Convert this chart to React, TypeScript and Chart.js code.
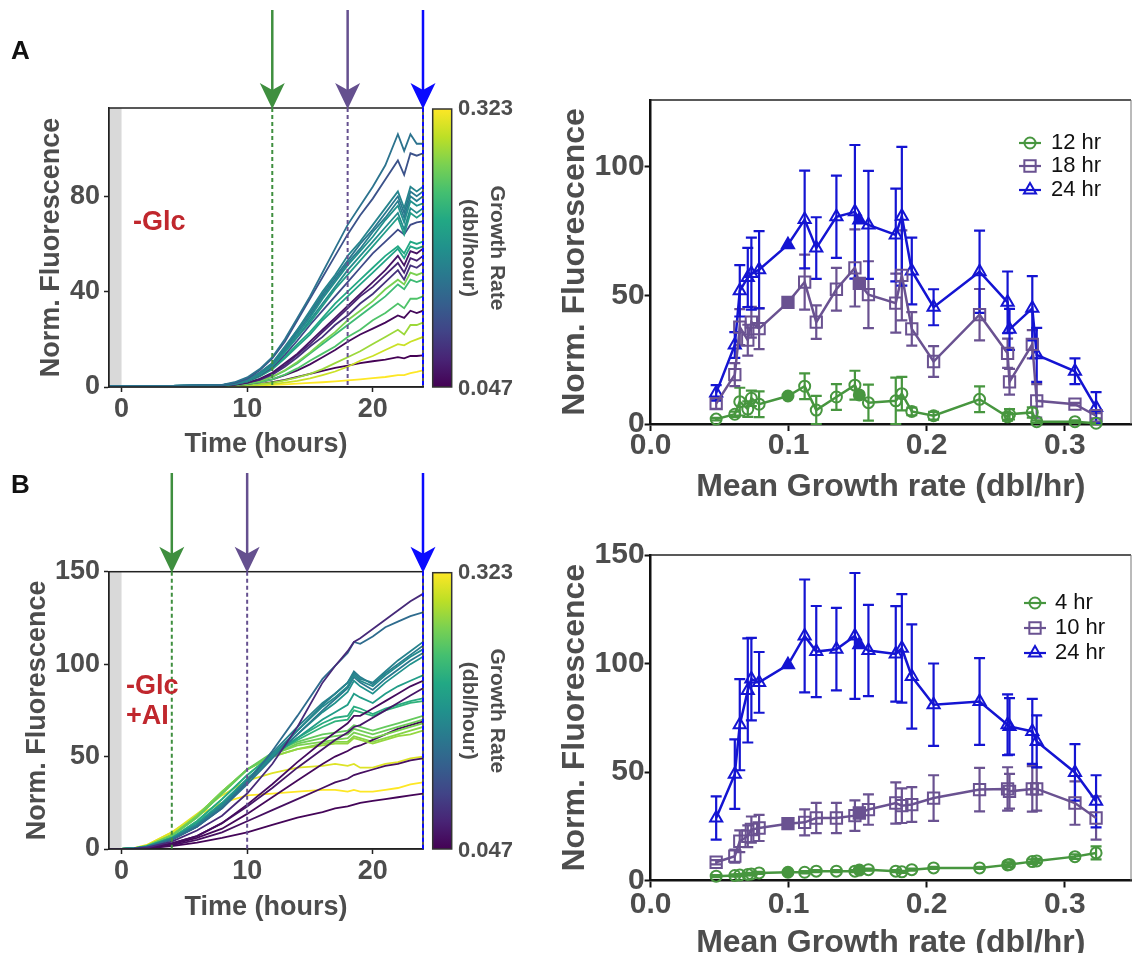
import React, { useEffect, useRef } from 'react';
import { Chart, registerables } from 'chart.js';

Chart.register(...registerables);
const FONT = "'Liberation Sans', Arial, Helvetica, sans-serif";
Chart.defaults.font.family = FONT;

const GRAY = '#4d4d4d';
const RED = '#c0272d';
const GREEN = '#47963f';
const PURPLE = '#6a5291';
const BLUE = '#1414d2';
const MARK_GREEN = '#3f8f3f';
const MARK_PURPLE = '#65508f';
const MARK_BLUE = '#0a0aff';

const VIRIDIS = ['#440154', '#482475', '#414487', '#355f8d', '#2a788e', '#21918c', '#22a884', '#44bf70', '#7ad151', '#bddf26', '#fde725'];
function hexToRgb(h: string) {
  return [parseInt(h.slice(1, 3), 16), parseInt(h.slice(3, 5), 16), parseInt(h.slice(5, 7), 16)];
}
function viridis(t: number): string {
  const c = Math.max(0, Math.min(1, t));
  const pos = c * (VIRIDIS.length - 1);
  const i = Math.min(Math.floor(pos), VIRIDIS.length - 2);
  const f = pos - i;
  const a = hexToRgb(VIRIDIS[i]);
  const b = hexToRgb(VIRIDIS[i + 1]);
  const m = a.map((v, k) => Math.round(v + (b[k] - v) * f));
  return `rgb(${m[0]},${m[1]},${m[2]})`;
}

// ---------- colour bar range ----------
const RATE_MIN = 0.047;
const RATE_MAX = 0.323;
const rateBarLabels = ['0.323', '0.047'];

// ---------- Panel A (left): time courses, -Glc ----------
const timeA = [-1, 4, 8, 9, 10, 11, 12, 13, 14, 15, 16, 17, 18, 19, 20, 21, 22, 22.5, 23, 23.5, 24];
const rateA = [0.152, 0.116, 0.171, 0.163, 0.185, 0.179, 0.199, 0.157, 0.108, 0.213, 0.207, 0.061, 0.075, 0.086, 0.268, 0.235, 0.246, 0.053, 0.282, 0.301, 0.047, 0.323];
const curvesA = [
  [0.5, 0.5, 0.9, 2, 4, 7.5, 12.5, 20, 29, 38, 48, 58, 68, 76, 84, 93, 106, 99, 106, 102, 102],
  [0.5, 0.5, 0.8, 1.7, 3.5, 7, 12, 19, 28, 37, 46, 55, 64, 72, 79, 87, 95, 89, 98, 97, 98],
  [0.5, 0.5, 0.8, 1.5, 3, 6, 10, 17, 24, 32, 40, 47, 55, 61, 68, 75, 82, 75, 84, 82, 84],
  [0.5, 0.5, 0.8, 1.5, 3, 5.8, 9.6, 16, 23, 30, 38, 45, 52, 58, 65, 71, 78, 71, 80, 78, 80],
  [0.5, 0.5, 0.8, 1.4, 2.8, 5.5, 9.4, 15.5, 22, 29, 37, 44, 51, 57, 63, 70, 76, 69, 78, 76, 77],
  [0.5, 0.5, 0.8, 1.4, 2.7, 5.3, 9, 15, 21, 28, 35, 42, 49, 55, 61, 67, 73, 66, 75, 73, 75],
  [0.5, 0.5, 0.8, 1.3, 2.6, 5.1, 8.8, 14.5, 21, 27, 34, 41, 47, 53, 59, 65, 71, 64, 73, 71, 73],
  [0.5, 0.5, 0.8, 1.5, 3, 6, 10, 16.5, 24, 31, 39, 46, 53, 60, 66, 73, 80, 73, 82, 80, 82],
  [0.5, 0.5, 0.7, 1.2, 2.4, 4.8, 8.2, 13.5, 19.5, 26, 32, 38, 44, 50, 56, 61, 66, 64, 68, 69, 69.5],
  [0.5, 0.5, 0.7, 1.3, 2.4, 4.6, 7.8, 12.5, 18, 23, 29, 35, 40, 45, 50, 55, 59, 56, 61, 60, 61],
  [0.5, 0.5, 0.7, 1.2, 2.3, 4.4, 7.4, 12, 17, 22, 28, 33, 38, 43, 48, 53, 58, 54, 59, 58, 59],
  [0.5, 0.5, 0.6, 1, 1.8, 3.4, 6, 10, 14, 19, 24, 29, 34, 39, 44, 49, 55, 51, 57, 56, 58],
  [0.5, 0.5, 0.6, 1, 1.8, 3.2, 5.6, 9.2, 13.5, 18, 23, 28, 33, 38, 42, 47, 52, 48, 54, 53, 55],
  [0.5, 0.5, 0.6, 1, 1.7, 3, 5.2, 8.5, 12.5, 17, 21, 26, 30, 35, 39, 44, 49, 45, 51, 50, 52],
  [0.5, 0.5, 0.6, 0.9, 1.5, 2.6, 4.3, 7, 10.5, 14.5, 19, 23, 28, 32, 36, 41, 45, 43, 48, 47, 48],
  [0.5, 0.5, 0.6, 0.9, 1.5, 2.6, 4.2, 6.8, 10, 14, 18, 22, 26, 30, 34, 38, 43, 41, 45, 44, 45],
  [0.5, 0.5, 0.6, 0.8, 1.2, 2, 3.2, 5.2, 7.8, 11, 14, 17, 21, 24, 28, 31, 35, 33, 37, 37, 38],
  [0.5, 0.5, 0.6, 0.8, 1.2, 2, 3.2, 5, 7, 9.5, 12.5, 15.5, 19, 22, 24.5, 27, 30, 29, 32, 31, 32],
  [0.5, 0.5, 0.5, 0.6, 0.8, 1.2, 1.8, 2.8, 4, 5.5, 7.5, 10, 12.5, 15, 18, 21, 24, 22, 26, 26, 27],
  [0.5, 0.5, 0.5, 0.6, 0.7, 0.9, 1.2, 1.8, 2.6, 3.6, 5, 6.5, 8.5, 11, 13, 15.5, 18, 17.5, 19, 20, 21],
  [0.5, 0.5, 0.5, 0.6, 0.8, 1.2, 2, 3, 4.2, 5.5, 6.8, 8, 9, 10, 10.8, 11.5, 12.5, 12, 13, 13, 13.3],
  [0.5, 0.5, 0.5, 0.5, 0.6, 0.7, 0.9, 1.1, 1.4, 1.7, 2, 2.4, 2.8, 3.2, 3.7, 4.2, 5, 5, 5.8, 6.3, 7],
];
const marksA = [12, 18, 24];

// ---------- Panel B (left): time courses, -Glc +AI ----------
const timeB = [-1, 0, 1, 2, 4, 6, 8, 10, 12, 14, 16, 17, 18, 18.5, 19, 20, 21, 22, 23, 24];
const rateB = [0.08, 0.144, 0.168, 0.177, 0.157, 0.185, 0.199, 0.055, 0.064, 0.218, 0.224, 0.257, 0.262, 0.268, 0.279, 0.053, 0.058, 0.05, 0.309, 0.323, 0.163, 0.273];
const curvesB = [
  [0, 0, 0.2, 0.8, 4, 10, 18, 30, 46, 66, 90, 99, 107, 112, 114, 119, 124, 129, 134, 138],
  [0, 0, 0.3, 1, 5, 12, 22, 36, 53, 72, 92, 99, 106, 112, 111, 115, 120, 123, 126, 128],
  [0, 0, 0.3, 1.2, 5.5, 13, 23, 37, 52, 66, 79, 84, 90, 95, 92, 90, 96, 102, 107, 112],
  [0, 0, 0.3, 1.2, 5.5, 13, 24, 37, 51, 64, 77, 82, 88, 94, 91, 88, 94, 99, 104, 108],
  [0, 0, 0.3, 1.1, 5, 12, 22, 35, 49, 62, 75, 81, 87, 93, 90, 86, 92, 97, 102, 106],
  [0, 0, 0.3, 1.2, 5.5, 13, 24, 37, 50, 62, 74, 79, 85, 91, 88, 84, 90, 95, 100, 104],
  [0, 0, 0.3, 1.3, 6, 14, 25, 38, 50, 60, 70, 74, 78, 84, 82, 79, 84, 88, 91, 94],
  [0, 0, 0.2, 0.6, 3, 7, 14, 24, 35, 47, 58, 63, 68, 72, 72, 76, 80, 84, 88, 91],
  [0, 0, 0.2, 0.6, 3, 7, 14, 23, 33, 44, 54, 59, 63, 66, 67, 71, 75, 79, 83, 87],
  [0, 0, 0.3, 1.4, 6, 15, 27, 40, 51, 60, 68, 71, 72, 77, 76, 73, 76, 78, 80, 81.5],
  [0, 0, 0.3, 1.4, 6, 15, 27, 40, 51, 59, 66, 69, 70, 75, 74, 72, 75, 77, 79, 80],
  [0, 0, 0.4, 1.6, 7, 17, 30, 43, 52, 58, 62, 63, 64, 67, 66, 64, 66, 68, 70, 72],
  [0, 0, 0.4, 1.6, 7, 17, 30, 43, 51, 57, 60, 61, 62, 65, 64, 62, 64, 66, 68, 70],
  [0, 0, 0.4, 1.7, 7.5, 18, 31, 43, 51, 56, 58, 59, 60, 63, 62, 60, 62, 64, 66, 68],
  [0, 0, 0.4, 1.7, 7.5, 18, 31, 43, 50, 54, 56, 57, 57, 60, 59, 57, 59, 61, 62, 64],
  [0, 0, 0.2, 0.5, 2.5, 6, 11, 19, 28, 37, 46, 50, 53, 55, 56, 59, 62, 65, 67, 69],
  [0, 0, 0.2, 0.5, 2, 5, 9, 15, 21, 27, 33, 36, 38, 40, 41, 43, 45, 46, 48, 49],
  [0, 0, 0.1, 0.4, 1.5, 3.5, 6, 9, 13, 17, 20, 22, 23, 24, 25, 26, 27, 28, 29, 30],
  [0, 0, 0.5, 2, 9, 19, 29, 37, 41, 44, 45, 46, 45, 46, 44, 44, 46, 47, 49, 50],
  [0, 0, 0.5, 2.2, 9, 18, 25, 29, 30, 31, 32, 32, 31, 32, 31, 31, 32, 33, 35, 36],
  [0, 0, 0.3, 1.1, 5, 12, 23, 36, 50, 64, 78, 84, 90, 96, 93, 89, 95, 100, 105, 110],
  [0, 0, 0.4, 1.8, 8, 18, 31, 43, 50, 54, 57, 58, 58, 61, 60, 58, 60, 62, 64, 66],
];
const marksB = [4, 10, 24];

const timeTicks = [0, 10, 20];
const yTicksLeftA = [0, 40, 80];
const yTicksLeftB = [0, 50, 100, 150];

// ---------- Right panels: fluorescence vs mean growth rate ----------
const growthRate = [0.0475, 0.061, 0.0646, 0.0704, 0.073, 0.0786, 0.0995, 0.1116, 0.12, 0.1346, 0.148, 0.1512, 0.1578, 0.1776, 0.182, 0.1892, 0.205, 0.2383, 0.2586, 0.26, 0.2765, 0.2797, 0.3074, 0.3227];
const filledIdx = [6, 11];
const growthTicks = [0, 0.1, 0.2, 0.3];

const fluA12 = [1.9, 3.8, 8.7, 5.8, 10, 7.7, 10.9, 14.7, 5.4, 10.5, 15.1, 11.3, 8.3, 9, 11.8, 4.9, 3.2, 9.6, 2.8, 3.8, 4.5, 0.9, 0.9, 0.3];
const errA12 = [0.5, 1, 5.4, 3, 3, 5, 0, 5, 5.5, 5, 5.6, 0, 7, 9, 6.5, 1.5, 1.5, 5, 1.5, 2, 2, 0.5, 0.5, 0.5];
const fluA18 = [7.9, 19.2, 37.7, 32.6, 39.6, 37.1, 47.3, 55.2, 39.6, 52.4, 60.7, 54.7, 50.3, 47, 57.8, 37, 24.3, 42.5, 27.5, 16.4, 31, 9, 7.7, 3.2];
const errA18 = [2, 4.5, 7, 6, 6, 8, 0, 10.7, 6.5, 8.3, 15, 0, 13, 11.5, 17.5, 6.5, 6, 10, 5.7, 5, 5.5, 6.5, 0.5, 1];
const fluA24 = [12.1, 30.7, 51.8, 57, 58.5, 60, 69.7, 79.5, 68.4, 80.6, 82.5, 79.3, 77.4, 73.5, 80.8, 59.5, 45.4, 59.2, 47.3, 36.8, 45, 26.9, 20.5, 6.4];
const errA24 = [3, 5, 10, 11.5, 14, 15, 0, 19, 12, 16, 26, 0, 21, 18, 27, 13, 7, 16, 12, 8, 12.5, 10.5, 5, 6];
const yTicksRightA = [0, 50, 100];

const fluB4 = [2, 2.3, 2.5, 2.8, 3, 3.5, 3.8, 3.8, 4.3, 4.3, 4.3, 4.8, 5, 4.3, 4, 5, 5.8, 5.8, 7.2, 7.4, 8.7, 9, 11, 12.7];
const errB4 = [0.5, 0.5, 0.5, 0.5, 0.5, 0.5, 0, 0.5, 0.5, 0.5, 0.5, 0, 0.5, 0.5, 0.5, 0.5, 0.5, 0.5, 1, 1, 1, 1, 1, 3];
const fluB10 = [8.4, 11.2, 18.1, 20.4, 23.5, 24.2, 26.2, 26.8, 28.8, 28.8, 29.9, 31.1, 32.7, 35.7, 34.5, 35, 38, 41.9, 42.2, 41.1, 42.2, 42.2, 35.7, 28.8];
const errB10 = [1, 3, 5, 5, 6, 6, 0, 6, 7, 7, 7, 0, 7, 9.5, 8, 8, 10.5, 10, 10, 8, 10.5, 10, 10, 10];
const fluB24 = [28.8, 49, 71.8, 87.6, 92.8, 91.3, 99.4, 112.7, 105.5, 106.6, 112.7, 108.6, 106, 104.4, 107, 94, 81, 82.5, 71.8, 71, 68.7, 64.1, 49.8, 36.5];
const errB24 = [10, 16, 21, 24, 19, 14, 0, 26, 21, 19, 29, 0, 21, 22, 25, 24, 19, 20, 14, 13, 15, 12, 13, 12];
const yTicksRightB = [0, 50, 100, 150];

const legendA = ['12 hr', '18 hr', '24 hr'];
const legendB = ['4 hr', '10 hr', '24 hr'];

// ---------- helpers ----------
const setTicks = (vals: number[]) => (s: any) => {
  s.ticks = vals.map((v) => ({ value: v }));
};

function drawMarker(ctx: any, style: string, x: number, y: number, r: number) {
  ctx.beginPath();
  if (style === 'circle') {
    ctx.arc(x, y, r, 0, Math.PI * 2);
  } else if (style === 'rect') {
    const s = r * Math.SQRT1_2;
    ctx.rect(x - s, y - s, 2 * s, 2 * s);
  } else {
    ctx.moveTo(x, y - r);
    ctx.lineTo(x + r * 0.866, y + r * 0.5);
    ctx.lineTo(x - r * 0.866, y + r * 0.5);
    ctx.closePath();
  }
  ctx.stroke();
}

function leftDecor(o: any) {
  return {
    id: 'leftDecor',
    beforeDatasetsDraw(chart: any) {
      const { ctx, chartArea: ca, scales } = chart;
      const x0 = scales.x.getPixelForValue(-1);
      const x1 = scales.x.getPixelForValue(0);
      ctx.save();
      ctx.fillStyle = '#d9d9d9';
      ctx.fillRect(x0, ca.top, x1 - x0, ca.bottom - ca.top);
      ctx.restore();
    },
    afterDraw(chart: any) {
      const { ctx, chartArea: ca, scales } = chart;
      ctx.save();
      ctx.strokeStyle = '#222';
      ctx.lineWidth = 1.5;
      ctx.strokeRect(ca.left, ca.top, ca.right - ca.left, ca.bottom - ca.top);
      const cols = [MARK_GREEN, MARK_PURPLE, MARK_BLUE];
      o.marks.forEach((t: number, i: number) => {
        const px = scales.x.getPixelForValue(t);
        ctx.strokeStyle = cols[i];
        ctx.fillStyle = cols[i];
        ctx.setLineDash([4, 3]);
        ctx.lineWidth = 2;
        ctx.beginPath();
        ctx.moveTo(px, ca.top);
        ctx.lineTo(px, ca.bottom);
        ctx.stroke();
        ctx.setLineDash([]);
        ctx.lineWidth = 2.5;
        ctx.beginPath();
        ctx.moveTo(px, o.arrowTop);
        ctx.lineTo(px, ca.top - 16);
        ctx.stroke();
        ctx.beginPath();
        ctx.moveTo(px, ca.top + 1);
        ctx.lineTo(px - 12.5, ca.top - 25);
        ctx.lineTo(px, ca.top - 18);
        ctx.lineTo(px + 12.5, ca.top - 25);
        ctx.closePath();
        ctx.fill();
      });
      // colour bar
      const bx = 432.7;
      const bw = 19;
      const bt = ca.top + 1;
      const bb = ca.bottom;
      const g = ctx.createLinearGradient(0, bb, 0, bt);
      VIRIDIS.forEach((c, i) => g.addColorStop(i / (VIRIDIS.length - 1), c));
      ctx.fillStyle = g;
      ctx.fillRect(bx, bt, bw, bb - bt);
      ctx.strokeStyle = '#333';
      ctx.lineWidth = 1.5;
      ctx.strokeRect(bx, bt, bw, bb - bt);
      ctx.fillStyle = GRAY;
      ctx.font = `bold 22px ${FONT}`;
      ctx.textAlign = 'left';
      ctx.textBaseline = 'middle';
      ctx.fillText(rateBarLabels[0], 458, bt);
      ctx.fillText(rateBarLabels[1], 458, bb + 2);
      ctx.font = `bold 21px ${FONT}`;
      ctx.textAlign = 'center';
      const mid = (bt + bb) / 2;
      ctx.save();
      ctx.translate(497, mid);
      ctx.rotate(Math.PI / 2);
      ctx.fillText('Growth Rate', 0, 0);
      ctx.restore();
      ctx.save();
      ctx.translate(469, mid);
      ctx.rotate(Math.PI / 2);
      ctx.fillText('(dbl/hour)', 0, 0);
      ctx.restore();
      // panel letter
      ctx.fillStyle = '#111';
      ctx.font = `bold 26px ${FONT}`;
      ctx.textAlign = 'left';
      ctx.fillText(o.letter, 11, o.letterY);
      // condition
      ctx.fillStyle = RED;
      ctx.font = `bold 27px ${FONT}`;
      o.cond.forEach((c: any) => ctx.fillText(c.text, c.x, c.y));
      ctx.restore();
    },
  };
}

function leftConfig(o: any) {
  const datasets = o.curves.map((row: number[], k: number) => ({
    data: o.times.map((t: number, i: number) => ({ x: t, y: row[i] })),
    borderColor: viridis((o.rates[k] - RATE_MIN) / (RATE_MAX - RATE_MIN)),
    borderWidth: 1.8,
    pointRadius: 0,
    tension: 0,
    fill: false,
  }));
  const tickFont = { size: 27, weight: 'bold' as const, lineHeight: 1 };
  return {
    type: 'line' as const,
    data: { datasets },
    options: {
      animation: false as const,
      responsive: false,
      maintainAspectRatio: false,
      events: [],
      layout: { padding: { left: 0, top: o.padTop, right: 122, bottom: 0 } },
      plugins: { legend: { display: false }, tooltip: { enabled: false } },
      scales: {
        x: {
          type: 'linear' as const,
          min: -1,
          max: 24,
          afterBuildTicks: setTicks(timeTicks),
          afterFit: (s: any) => { s.height = o.xAxisH; },
          grid: { drawOnChartArea: false, drawTicks: true, tickLength: 5, tickColor: '#222', tickWidth: 1.5 },
          border: { color: '#222', width: 1.5 },
          ticks: { font: tickFont, color: GRAY, padding: 4.5, maxRotation: 0, autoSkip: false },
          title: { display: true, text: 'Time (hours)', color: GRAY, font: tickFont, padding: { top: 0, bottom: o.xTitlePad } },
        },
        y: {
          type: 'linear' as const,
          min: 0,
          max: o.yMax,
          afterBuildTicks: setTicks(o.yTicks),
          afterFit: (s: any) => { s.width = 109; },
          grid: { drawOnChartArea: false, drawTicks: true, tickLength: 5, tickColor: '#222', tickWidth: 1.5 },
          border: { color: '#222', width: 1.5 },
          ticks: { font: tickFont, color: GRAY, padding: 4, autoSkip: false },
          title: { display: true, text: 'Norm. Fluorescence', color: GRAY, font: tickFont, padding: { top: o.yTitlePad, bottom: 0 } },
        },
      },
    },
    plugins: [leftDecor(o)],
  };
}

function rightDecor(o: any) {
  return {
    id: 'rightDecor',
    beforeDatasetsDraw(chart: any) {
      const { ctx, scales } = chart;
      ctx.save();
      ctx.lineWidth = 2.2;
      chart.data.datasets.forEach((ds: any) => {
        ctx.strokeStyle = ds.borderColor;
        ds.data.forEach((pt: any, i: number) => {
          const e = ds.errors[i];
          if (!e) return;
          const px = scales.x.getPixelForValue(pt.x);
          const yt = scales.y.getPixelForValue(pt.y + e);
          const yb = scales.y.getPixelForValue(Math.max(pt.y - e, 0));
          ctx.beginPath();
          ctx.moveTo(px, yt);
          ctx.lineTo(px, yb);
          ctx.moveTo(px - 5.5, yt);
          ctx.lineTo(px + 5.5, yt);
          ctx.moveTo(px - 5.5, yb);
          ctx.lineTo(px + 5.5, yb);
          ctx.stroke();
        });
      });
      ctx.restore();
    },
    afterDraw(chart: any) {
      const { ctx, chartArea: ca } = chart;
      ctx.save();
      ctx.strokeStyle = '#222';
      ctx.lineWidth = 1.5;
      ctx.beginPath();
      ctx.moveTo(ca.left, ca.top);
      ctx.lineTo(ca.right, ca.top);
      ctx.stroke();
      ctx.strokeStyle = '#777';
      ctx.lineWidth = 1;
      ctx.beginPath();
      ctx.moveTo(ca.right, ca.top);
      ctx.lineTo(ca.right, ca.bottom);
      ctx.stroke();
      // legend
      chart.data.datasets.forEach((ds: any, i: number) => {
        const y = o.legY[i];
        ctx.strokeStyle = ds.borderColor;
        ctx.lineWidth = 2.2;
        ctx.beginPath();
        ctx.moveTo(o.legX - 11, y);
        ctx.lineTo(o.legX + 11, y);
        ctx.stroke();
        ctx.lineWidth = 2;
        drawMarker(ctx, ds.pointStyle, o.legX, y, ds.pointRadius);
        ctx.fillStyle = '#111';
        ctx.font = `22px ${FONT}`;
        ctx.textAlign = 'left';
        ctx.textBaseline = 'middle';
        ctx.fillText(ds.label, o.legTextX, y);
      });
      ctx.restore();
    },
  };
}

function seriesDs(label: string, ys: number[], errs: number[], color: string, style: string, r: number) {
  return {
    label,
    data: growthRate.map((g, i) => ({ x: g, y: ys[i] })),
    errors: errs,
    borderColor: color,
    borderWidth: 2.5,
    tension: 0,
    fill: false,
    clip: false,
    pointStyle: style,
    pointRadius: r,
    pointBorderWidth: 2,
    pointBorderColor: color,
    pointBackgroundColor: growthRate.map((_, i) => (filledIdx.includes(i) ? color : 'rgba(255,255,255,0)')),
  };
}

function rightConfig(o: any) {
  const tickFont = { size: 30, weight: 'bold' as const, lineHeight: 1 };
  const titleFont = { size: 32, weight: 'bold' as const, lineHeight: 1 };
  return {
    type: 'line' as const,
    data: {
      datasets: [
        seriesDs(o.labels[0], o.s1, o.e1, GREEN, 'circle', 5.5),
        seriesDs(o.labels[1], o.s2, o.e2, PURPLE, 'rect', 8),
        seriesDs(o.labels[2], o.s3, o.e3, BLUE, 'triangle', 7),
      ],
    },
    options: {
      animation: false as const,
      responsive: false,
      maintainAspectRatio: false,
      events: [],
      layout: { padding: { left: 0, top: o.padTop, right: 2, bottom: 0 } },
      plugins: { legend: { display: false }, tooltip: { enabled: false } },
      scales: {
        x: {
          type: 'linear' as const,
          min: 0,
          max: 0.348,
          afterBuildTicks: setTicks(growthTicks),
          afterFit: (s: any) => { s.height = o.xAxisH; },
          grid: { drawOnChartArea: false, drawTicks: true, tickLength: 7, tickColor: '#111', tickWidth: 2 },
          border: { color: '#111', width: 2.5 },
          ticks: { font: tickFont, color: GRAY, padding: o.xTickPad, maxRotation: 0, autoSkip: false, callback: (v: any) => Number(v).toFixed(1) },
          title: { display: true, text: 'Mean Growth rate (dbl/hr)', color: GRAY, font: titleFont, padding: { top: 0, bottom: o.xTitlePad } },
        },
        y: {
          type: 'linear' as const,
          min: 0,
          max: o.yMax,
          afterBuildTicks: setTicks(o.yTicks),
          afterFit: (s: any) => { s.width = 110.6; },
          grid: { drawOnChartArea: false, drawTicks: true, tickLength: 6, tickColor: '#111', tickWidth: 2 },
          border: { color: '#111', width: 2.5 },
          ticks: { font: tickFont, color: GRAY, padding: 0, autoSkip: false },
          title: { display: true, text: 'Norm. Fluorescence', color: GRAY, font: titleFont, padding: { top: 19, bottom: 0 } },
        },
      },
    },
    plugins: [rightDecor(o)],
  };
}

function ChartBox({ left, top, width, height, make }: any) {
  const ref = useRef<HTMLCanvasElement | null>(null);
  useEffect(() => {
    const chart = new Chart(ref.current as any, make() as any);
    return () => chart.destroy();
  }, []);
  return (
    <div style={{ position: 'absolute', left, top, width, height }}>
      <canvas ref={ref} width={width} height={height} style={{ width: `${width}px`, height: `${height}px`, display: 'block' }} />
    </div>
  );
}

export default function App() {
  return (
    <div style={{ position: 'absolute', left: 0, top: 0, width: 1141, height: 953, overflow: 'hidden', background: '#fff' }}>
      <ChartBox
        left={0}
        top={0}
        width={545}
        height={470}
        make={() =>
          leftConfig({
            times: timeA, curves: curvesA, rates: rateA, marks: marksA, yMax: 117, yTicks: yTicksLeftA,
            padTop: 108, xAxisH: 83, xTitlePad: 11.5, yTitlePad: 38.5, arrowTop: 10, letter: 'A', letterY: 52,
            cond: [{ text: '-Glc', x: 133, y: 223 }],
          })
        }
      />
      <ChartBox
        left={0}
        top={470}
        width={545}
        height={483}
        make={() =>
          leftConfig({
            times: timeB, curves: curvesB, rates: rateB, marks: marksB, yMax: 150, yTicks: yTicksLeftB,
            padTop: 101.7, xAxisH: 104, xTitlePad: 31.5, yTitlePad: 24.5, arrowTop: 3, letter: 'B', letterY: 16,
            cond: [{ text: '-Glc', x: 126, y: 216.7 }, { text: '+AI', x: 126, y: 246.7 }],
          })
        }
      />
      <ChartBox
        left={540}
        top={85}
        width={601}
        height={425}
        make={() =>
          rightConfig({
            labels: legendA, s1: fluA12, e1: errA12, s2: fluA18, e2: errA18, s3: fluA24, e3: errA24,
            yMax: 126, yTicks: yTicksRightA, padTop: 10, xAxisH: 86, xTickPad: 0, xTitlePad: 7,
            legX: 490, legTextX: 511, legY: [58, 81, 105],
          })
        }
      />
      <ChartBox
        left={540}
        top={530}
        width={601}
        height={440}
        make={() =>
          rightConfig({
            labels: legendB, s1: fluB4, e1: errB4, s2: fluB10, e2: errB10, s3: fluB24, e3: errB24,
            yMax: 150, yTicks: yTicksRightB, padTop: 25, xAxisH: 89.5, xTickPad: 2.5, xTitlePad: 11,
            legX: 495, legTextX: 515, legY: [73, 98, 123],
          })
        }
      />
    </div>
  );
}
